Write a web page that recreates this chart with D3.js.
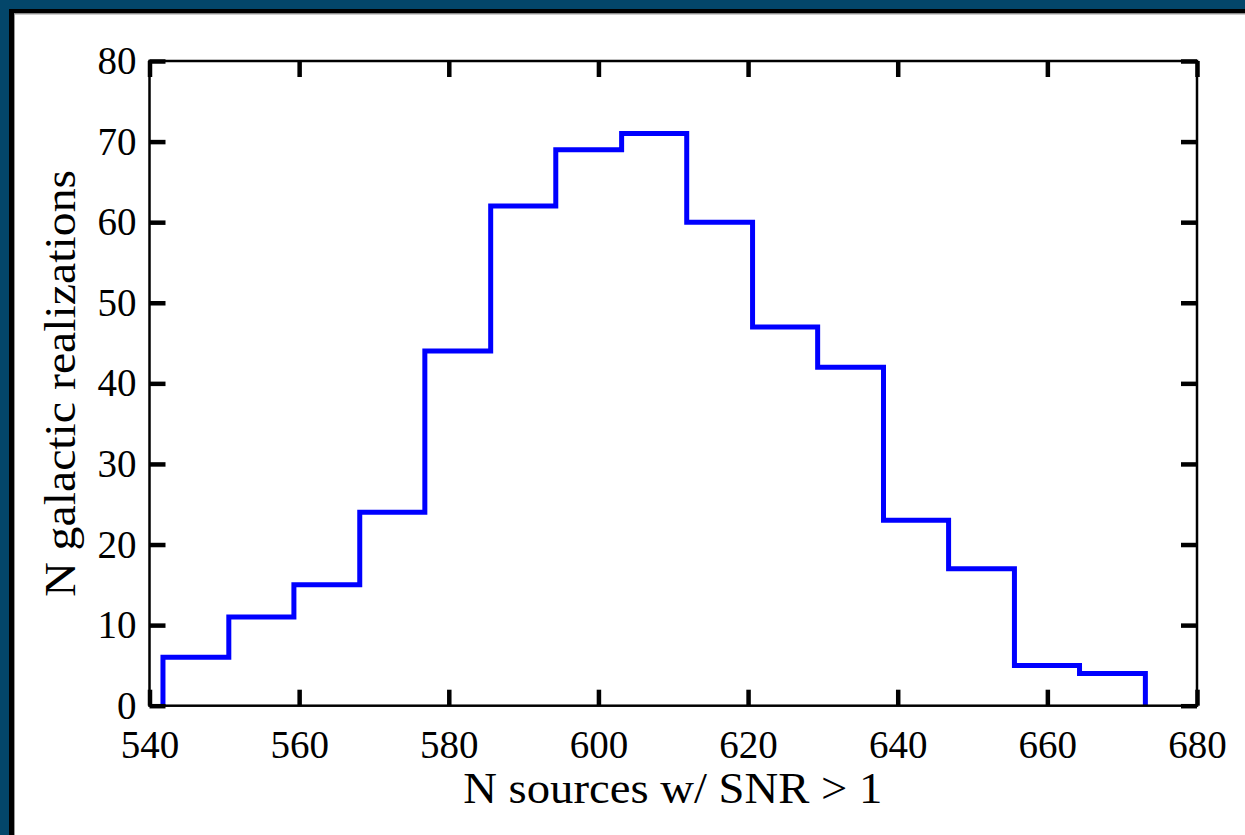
<!DOCTYPE html>
<html>
<head>
<meta charset="utf-8">
<script src="https://cdn.jsdelivr.net/npm/d3@7"></script>
<style>
  html, body { margin: 0; padding: 0; background: #fff; }
  svg { display: block; }
  text { font-family: "Liberation Serif", "DejaVu Serif", serif; fill: #000; }
</style>
</head>
<body>
<svg id="chart" width="1245" height="835"></svg>
<script>
// ---- data ----
const binEdges = [541.8, 550.6, 559.3, 568.1, 576.8, 585.6, 594.3, 603.1, 611.8, 620.6, 629.3, 638.1, 646.8, 655.6, 664.3, 673.1];
const counts   = [6, 11, 15, 24, 44, 62, 69, 71, 60, 47, 42, 23, 17, 5, 4];
const xTicks   = [540, 560, 580, 600, 620, 640, 660, 680];
const yTicks   = [0, 10, 20, 30, 40, 50, 60, 70, 80];
const xLabel   = "N sources w/ SNR > 1";
const yLabel   = "N galactic realizations";

const W = 1245, H = 835;
const plot = { left: 149.5, right: 1197, top: 61, bottom: 705.7 };

const svg = d3.select("#chart");

// frame
svg.append("rect").attr("x", 0).attr("y", 0).attr("width", W).attr("height", H).attr("fill", "#ffffff");
svg.append("rect").attr("x", 0).attr("y", 0).attr("width", W).attr("height", 9).attr("fill", "#03466a");
svg.append("rect").attr("x", 0).attr("y", 0).attr("width", 9).attr("height", H).attr("fill", "#03466a");
svg.append("rect").attr("x", 9).attr("y", 9).attr("width", W - 9).attr("height", 4.5).attr("fill", "#000");
svg.append("rect").attr("x", 9).attr("y", 9).attr("width", 5).attr("height", H - 9).attr("fill", "#000");
svg.append("line").attr("x1", 14).attr("x2", W).attr("y1", 14).attr("y2", 14).attr("stroke", "#999").attr("stroke-width", 1);
svg.append("line").attr("x1", 14.5).attr("x2", 14.5).attr("y1", 14).attr("y2", H).attr("stroke", "#999").attr("stroke-width", 1);

const x = d3.scaleLinear().domain([540, 680]).range([plot.left, plot.right]);
const y = d3.scaleLinear().domain([0, 80]).range([plot.bottom, plot.top]);

// histogram step outline
const pts = [[binEdges[0], 0]];
counts.forEach((c, i) => { pts.push([binEdges[i], c]); pts.push([binEdges[i + 1], c]); });
pts.push([binEdges[binEdges.length - 1], 0]);
const line = d3.line().x(d => x(d[0])).y(d => y(d[1]));
svg.append("path").attr("d", line(pts))
  .attr("fill", "none").attr("stroke", "#0000ff").attr("stroke-width", 5)
  .attr("stroke-linejoin", "miter");

// axes (ticks inward on all sides)
const tickLen = 16;
const fontSize = 39;
const styleAxis = g => {
  g.select(".domain").remove();
  g.selectAll(".tick line").attr("stroke", "#000").attr("stroke-width", 4.5);
};
const gB = svg.append("g").attr("transform", `translate(0,${plot.bottom})`)
  .call(d3.axisBottom(x).tickValues(xTicks).tickSize(-tickLen).tickPadding(25).tickFormat(d3.format("d")));
styleAxis(gB);
gB.selectAll("text").attr("font-size", fontSize).attr("font-family", "Liberation Serif");
const gT = svg.append("g").attr("transform", `translate(0,${plot.top})`)
  .call(d3.axisTop(x).tickValues(xTicks).tickSize(-tickLen).tickFormat(""));
styleAxis(gT);
const gL = svg.append("g").attr("transform", `translate(${plot.left},0)`)
  .call(d3.axisLeft(y).tickValues(yTicks).tickSize(-tickLen).tickPadding(13).tickFormat(d3.format("d")));
styleAxis(gL);
gL.selectAll("text").attr("font-size", fontSize).attr("font-family", "Liberation Serif");
const gR = svg.append("g").attr("transform", `translate(${plot.right},0)`)
  .call(d3.axisRight(y).tickValues(yTicks).tickSize(-tickLen).tickFormat(""));
styleAxis(gR);

// spines
svg.append("rect").attr("x", plot.left).attr("y", plot.top)
  .attr("width", plot.right - plot.left).attr("height", plot.bottom - plot.top)
  .attr("fill", "none").attr("stroke", "#000").attr("stroke-width", 2.5);

// axis labels
svg.append("text").attr("x", (plot.left + plot.right) / 2 - 0.5).attr("y", 803)
  .attr("text-anchor", "middle").attr("font-size", 44)
  .attr("textLength", 419).attr("lengthAdjust", "spacingAndGlyphs").text(xLabel);
svg.append("text").attr("transform", `translate(75,${(plot.top + plot.bottom) / 2}) rotate(-90)`)
  .attr("text-anchor", "middle").attr("font-size", 44)
  .attr("textLength", 427).attr("lengthAdjust", "spacingAndGlyphs").text(yLabel);
</script>
</body>
</html>
